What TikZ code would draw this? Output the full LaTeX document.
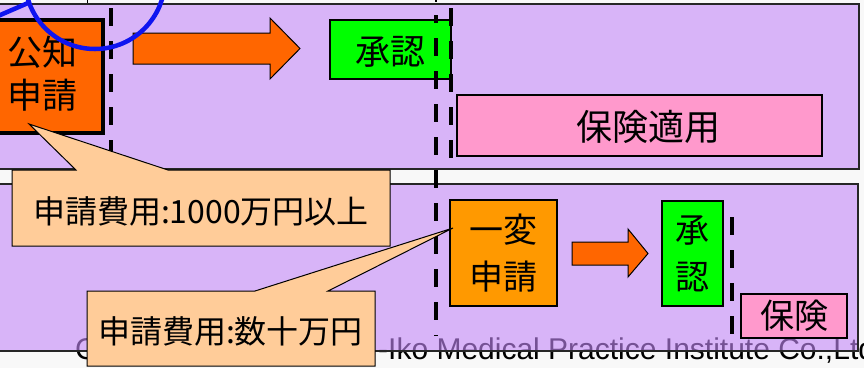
\documentclass[tikz,border=0pt]{standalone}
\usepackage{fontspec}
\setmainfont{Liberation Sans}
\newfontfamily\cjk{Noto Sans CJK JP}
\definecolor{bgc}{RGB}{248,248,248}
\definecolor{lav}{RGB}{195,135,248}
\definecolor{orng}{RGB}{255,102,0}
\definecolor{orng2}{RGB}{255,153,0}
\definecolor{grn}{RGB}{0,255,0}
\definecolor{pnk}{RGB}{255,153,204}
\definecolor{peach}{RGB}{255,204,153}
\definecolor{blu}{RGB}{15,20,240}
\tikzset{
  panel/.style={fill=lav, fill opacity=0.6, draw=black!85, line width=1.3},
  dashline/.style={line width=4, dash pattern=on 18 off 15},
  box/.style={draw=black, line width=1.2, inner sep=0, outer sep=0, align=center},
  bigtxt/.style={font=\cjk\fontsize{35}{44}\selectfont, align=center},
  midtxt/.style={font=\cjk\fontsize{34}{44}\selectfont},
  calltxt/.style={font=\cjk\fontsize{32}{36}\selectfont, inner sep=0},
  shp/.style={draw=black, line width=1},
  wm/.style={font=\fontsize{30}{32}\selectfont, inner sep=0, anchor=base west, text=black}
}
\begin{document}
\begin{tikzpicture}[x=1pt,y=-1pt]
\useasboundingbox (0,0) rectangle (864,368);
\clip (0,0) rectangle (864,368);
\fill[bgc] (0,0) rectangle (864,368);
% bits of the section above
\draw[line width=1] (87,-2) -- (87,3);
\draw[line width=2] (436,-2) -- (436,2);

% watermark text (under the panels)
\node[wm] (wmC) at (75,359) {C};
\node[wm] (wmT) at (378,359) {-Iko Medical Practice Institute Co.,Ltd};

% panels
\path[panel] (-10,4) rectangle (859,169);
\path[panel] (-10,184) rectangle (858,351);

% top panel contents
\node[box, fill=orng, line width=4.5, minimum width=123, minimum height=113] (koochi) at (41.5,76.5) {};
\node[bigtxt, inner sep=0] (koochiT) at (42,74) {公知\\[-1pt]申請};
\draw[shp, fill=orng] (133,33) -- (270,33) -- (270,18) -- (300,48.5) -- (270,79) -- (270,64) -- (133,64) -- cycle;
\node[box, fill=grn, minimum width=121, minimum height=59] (shonin1) at (390.5,49.5) {};
\node[bigtxt, inner sep=0] (shonin1T) at (390,52) {承認};
\node[box, fill=pnk, minimum width=365, minimum height=61] (hoken1) at (639.5,125.5) {};
\node[font=\cjk\fontsize{36}{44}\selectfont, inner sep=0] (hoken1T) at (648,127) {保険適用};

% bottom panel contents
\node[box, fill=orng2, minimum width=107, minimum height=106, midtxt] (ippen) at (503.5,253) {一変\\[3pt]申請};
\draw[shp, fill=orng] (572,242) -- (628,242) -- (628,229) -- (648,253.5) -- (628,277) -- (628,265) -- (572,265) -- cycle;
\node[box, fill=grn, minimum width=61, minimum height=105, midtxt] (shonin2) at (692.5,253.5) {承\\[3pt]認};
\node[box, fill=pnk, minimum width=106, minimum height=44, midtxt] (hoken2) at (794,316) {保険};

% dashed lines
\draw[dashline] (111,8) -- (111,168);
\draw[dashline] (451,8) -- (451,168);
\draw[dashline, dash phase=10] (436,15) -- (436,336);
\draw[dashline] (732,217) -- (732,336);

% callouts
\coordinate (tip1) at (29,124);
\coordinate (tip2) at (453,228);
\draw[shp, fill=peach] (12,170) -- (76,170) -- (tip1) -- (168,170) -- (390,170) -- (390,246) -- (12,246) -- cycle;
\node[calltxt] (cost1) at (201,211.5) {申請費用:1000万円以上};
\draw[shp, fill=peach] (87,291) -- (255,291) -- (tip2) -- (328,291) -- (375,291) -- (375,366) -- (87,366) -- cycle;
\node[calltxt] (cost2) at (230.5,331.5) {申請費用:数十万円};

% blue circle from the section above
\draw[blu, line width=4.5] (95,-21) circle (70);
\draw[blu, line width=4.5] (-2,16) -- (28,3);
\end{tikzpicture}
\end{document}
